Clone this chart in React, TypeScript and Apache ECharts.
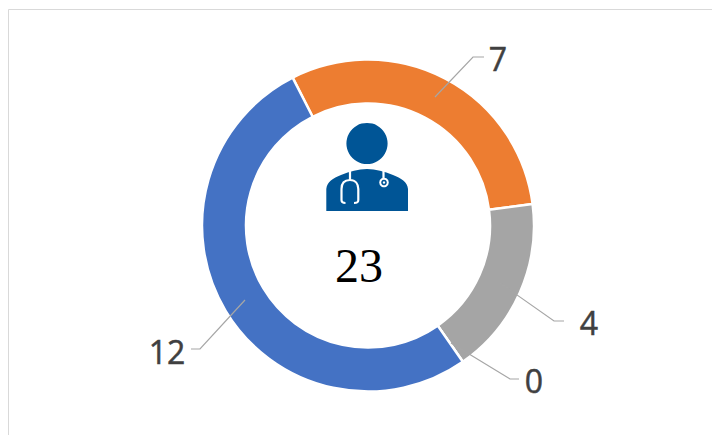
import React, { useEffect, useRef } from "react";
import * as echarts from "echarts";

const categories = ["A", "B", "C", "D"];
const values = [7, 4, 0, 12];
const colors = ["#ED7D31", "#A5A5A5", "#FFC000", "#4472C4"];
const total = "23";
const labelPositions = [[498, 58], [589, 322], [534, 380], [167, 351]];
const leaderLines = [
  [[435, 97], [473, 57], [484, 57]],
  [[500, 283], [554, 321], [564, 321]],
  [[451, 343], [510, 379], [519, 379]],
  [[245, 300], [200, 349], [191, 349]],
];

const BODY = "M326.3 211 L326.3 189 C327 182 333 178 341 175 C350 171.5 358 169 367 169 C376 169 384 171.5 393 175 C401 178 407.5 182 408 189 L408 211 Z";
const TUBE = "M350 171 L350 180 C344 180 341.5 184 341.5 189 L341.5 200 C341.5 202.5 343 203 345.5 203 M350 180 C355.5 180 358.3 184 358.3 189 L358.3 200 C358.3 202.5 357 203 354 203 M383.5 171 L383.5 179";
echarts.graphic.registerShape("doctorBody", echarts.graphic.extendPath(BODY, {}));
echarts.graphic.registerShape("doctorTube", echarts.graphic.extendPath(TUBE, {}));

export default function App() {
  const ref = useRef<HTMLDivElement>(null);
  useEffect(() => {
    document.body.style.margin = "0";
    document.body.style.overflow = "hidden";
    const chart = echarts.init(ref.current!, null, { renderer: "svg" });
    const data = categories.map((name, i) => ({ name, value: values[i] }));
    chart.setOption({
      animation: false,
      backgroundColor: "#ffffff",
      color: colors,
      series: [
        {
          type: "pie",
          z: 2,
          center: [368, 225.5],
          radius: [122, 166],
          startAngle: 117,
          stillShowZeroSum: true,
          itemStyle: { borderColor: "#ffffff", borderWidth: 2.5 },
          label: { show: false },
          labelLine: { show: false },
          emphasis: { disabled: true },
          data,
        },
        {
          type: "pie",
          z: 3,
          silent: true,
          center: [368, 225.5],
          radius: [122, 166],
          startAngle: 117,
          stillShowZeroSum: true,
          itemStyle: { color: "rgba(0,0,0,0)", borderWidth: 0 },
          label: {
            show: true,
            position: "outside",
            formatter: "{c}",
            fontFamily: "Open Sans",
            fontSize: 32,
            color: "#404040",
            textBorderColor: "#404040",
            textBorderWidth: 0.5,
          },
          labelLine: { show: true, lineStyle: { color: "#A6A6A6", width: 1.2 } },
          labelLayout: (params: any) => {
            const [x, y] = labelPositions[params.dataIndex];
            return {
              x,
              y,
              align: "center",
              verticalAlign: "middle",
              labelLinePoints: leaderLines[params.dataIndex],
            };
          },
          emphasis: { disabled: true },
          data,
        },
      ],
      graphic: [
        { type: "line", shape: { x1: 8.5, y1: 9.5, x2: 712, y2: 9.5 }, style: { stroke: "#D9D9D9", lineWidth: 1 } },
        { type: "line", shape: { x1: 8.5, y1: 9.5, x2: 8.5, y2: 435 }, style: { stroke: "#D9D9D9", lineWidth: 1 } },
        { type: "circle", shape: { cx: 367, cy: 143.5, r: 20.6 }, style: { fill: "#005596" } },
        { type: "doctorBody", style: { fill: "#005596" } },
        { type: "doctorTube", style: { fill: "none", stroke: "#ffffff", lineWidth: 2.2 } },
        { type: "circle", shape: { cx: 384, cy: 182.5, r: 3.8 }, style: { fill: "#005596", stroke: "#ffffff", lineWidth: 2 } },
        { type: "circle", shape: { cx: 384, cy: 182.5, r: 1.2 }, style: { fill: "#ffffff" } },
        {
          type: "text",
          x: 359,
          y: 265,
          style: {
            text: total,
            fontFamily: "Liberation Serif",
            fontSize: 48,
            fill: "#000000",
            align: "center",
            verticalAlign: "middle",
          },
        },
      ],
    });
    return () => chart.dispose();
  }, []);
  return <div ref={ref} style={{ position: "fixed", left: 0, top: 0, width: 712, height: 435 }} />;
}
